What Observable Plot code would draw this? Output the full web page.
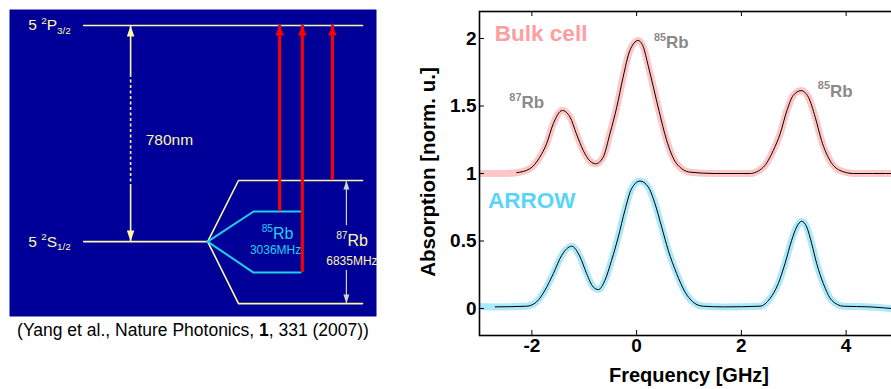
<!DOCTYPE html>
<html><head><meta charset="utf-8">
<script src="https://cdn.jsdelivr.net/npm/d3@7"></script>
<script src="https://cdn.jsdelivr.net/npm/@observablehq/plot@0.6"></script>
<style>
html,body{margin:0;padding:0;background:#fff;width:891px;height:389px;overflow:hidden;}
#left{position:absolute;left:0;top:0;width:400px;}
#right{position:absolute;left:400px;top:0;width:500px;}
svg{overflow:visible;max-width:none !important;}
</style></head><body>
<div id="left"></div><div id="right"></div>
<script>
// ===== Right chart: absorption spectra =====
const bulkFreq = [-3.0, -2.6, -2.29, -2.04, -1.85, -1.72, -1.59, -1.42, -1.27, -1.15, -1.02, -0.89, -0.78, -0.64, -0.51, -0.38, -0.26, -0.13, 0.03, 0.13, 0.22, 0.32, 0.43, 0.57, 0.76, 1.02, 1.5, 2.16, 2.42, 2.61, 2.74, 2.87, 2.99, 3.14, 3.28, 3.41, 3.53, 3.69, 3.88, 4.14, 4.5, 5.0];
const bulkAbs  = [1.0, 1.0, 1.006, 1.035, 1.12, 1.22, 1.37, 1.467, 1.417, 1.294, 1.171, 1.092, 1.072, 1.12, 1.294, 1.49, 1.71, 1.91, 1.985, 1.935, 1.80, 1.64, 1.46, 1.25, 1.075, 1.01, 1.0, 1.0, 1.047, 1.171, 1.294, 1.467, 1.578, 1.614, 1.565, 1.417, 1.245, 1.097, 1.023, 1.0, 1.0, 1.0];
const arrowFreq = [-3.0, -2.7, -2.1, -1.91, -1.75, -1.59, -1.43, -1.24, -1.08, -0.955, -0.83, -0.73, -0.605, -0.478, -0.35, -0.224, -0.096, 0.064, 0.222, 0.35, 0.478, 0.604, 0.764, 0.923, 1.02, 1.114, 1.27, 1.66, 2.355, 2.546, 2.705, 2.833, 2.96, 3.056, 3.15, 3.247, 3.343, 3.438, 3.565, 3.725, 3.947, 4.457, 5.0];
const arrowAbs  = [0.015, 0.012, 0.017, 0.049, 0.135, 0.259, 0.394, 0.461, 0.382, 0.259, 0.16, 0.14, 0.209, 0.357, 0.53, 0.727, 0.888, 0.944, 0.90, 0.777, 0.604, 0.431, 0.259, 0.123, 0.07, 0.037, 0.017, 0.012, 0.017, 0.074, 0.185, 0.333, 0.505, 0.604, 0.646, 0.604, 0.48, 0.333, 0.185, 0.061, 0.017, 0.012, -0.005];
const bulkFitFrom = -2.29;
const arrowFitFrom = -2.7;
const xTicks = [-2, 0, 2, 4];
const xTickLabels = ["-2", "0", "2", "4"];
const yTicks = [0, 0.5, 1, 1.5, 2];
const yTickLabels = ["0", "0.5", "1", "1.5", "2"];
const seriesNames = ["Bulk cell", "ARROW"];
const peakNames = ["^{87}Rb", "^{85}Rb", "^{85}Rb"];
const peakFreq = [-2.43, 0.33, 3.46];
const peakAbs = [1.487, 1.927, 1.57];
const xLabel = "Frequency [GHz]";
const yLabel = "Absorption [norm. u.]";

// ===== Left diagram: Rb D2 level scheme (diagram units) =====
const levelNames = ["5 ^{2}P_{3/2}", "5 ^{2}S_{1/2}"];
const levelEnergy = [94.8, 24.4];
const hf87Energy = [44.3, 4.2];
const hf85Energy = [34.2, 14.3];
const redX = [73.6, 79.8, 88.0];
const redFrom = [34.2, 14.3, 44.3];
const wavelengthLabel = "780nm";
const rb85Labels = ["^{85}Rb", "3036MHz"];
const rb87Labels = ["^{87}Rb", "6835MHz"];
const caption = "(Yang et al., Nature Photonics, *{1}, 331 (2007))";

const FONT = "'Liberation Sans', Arial, Helvetica, sans-serif";
const PINK = "#ffc6c6", PINKTXT = "#ff9e9e", CYAN = "#ade9fb", CYANTXT = "#5cd4fa", GRAY = "#8a8a8a";
const NAVY = "#000099", YEL = "#fdf8a8", CYL = "#1fd0ec", RED = "#ff0000", ARR = "#d4d4c4";

function richify(svg) {
  d3.select(svg).selectAll("text").each(function () {
    const t = this.textContent;
    if (!/[\^_*]\{/.test(t)) return;
    const fs = parseFloat(getComputedStyle(this).fontSize) || 12;
    const pieces = t.split(/([\^_*]\{[^}]*\})/).filter(p => p.length);
    this.textContent = "";
    let shift = 0;
    for (const p of pieces) {
      const m = p.match(/^([\^_*])\{([^}]*)\}$/);
      let s = 0, size = fs, txt = p, bold = false;
      if (m) {
        txt = m[2];
        if (m[1] === "^") { s = -0.42 * fs; size = 0.64 * fs; }
        else if (m[1] === "_") { s = 0.22 * fs; size = 0.64 * fs; }
        else bold = true;
      }
      const ts = d3.select(this).append("tspan").text(txt).attr("font-size", size);
      if (s - shift !== 0) ts.attr("dy", s - shift);
      if (bold) ts.attr("font-weight", "bold");
      shift = s;
    }
  });
}

// ---- right chart ----
const bulk = bulkFreq.map((f, i) => ({f, a: bulkAbs[i]}));
const arrow = arrowFreq.map((f, i) => ({f, a: arrowAbs[i]}));
const bulkFit = bulk.filter(d => d.f >= bulkFitFrom);
const arrowFit = arrow.filter(d => d.f >= arrowFitFrom);

const right = Plot.plot({
  width: 500, height: 389,
  marginLeft: 79, marginRight: 2, marginTop: 11, marginBottom: 54,
  style: {fontFamily: FONT, background: "transparent", overflow: "visible", maxWidth: "none"},
  x: {domain: [-3, 5], axis: null},
  y: {domain: [-0.2, 2.2], axis: null},
  marks: [
    Plot.line(bulk, {x: "f", y: "a", stroke: PINK, strokeWidth: 7, curve: "monotone-x", strokeLinecap: "butt"}),
    Plot.line(arrow, {x: "f", y: "a", stroke: CYAN, strokeWidth: 7, curve: "monotone-x", strokeLinecap: "butt"}),
    Plot.line(bulkFit, {x: "f", y: "a", stroke: "black", strokeWidth: 1, curve: "monotone-x"}),
    Plot.line(arrowFit, {x: "f", y: "a", stroke: "black", strokeWidth: 1, curve: "monotone-x"}),
    Plot.frame({stroke: "black", strokeWidth: 1.6}),
    Plot.ruleX(xTicks, {x: d => d, insetTop: 319, stroke: "black"}),
    Plot.ruleX(xTicks, {x: d => d, insetBottom: 319, stroke: "black"}),
    Plot.ruleY(yTicks, {y: d => d, insetRight: 414, stroke: "black"}),
    Plot.ruleY(yTicks, {y: d => d, insetLeft: 414, stroke: "black"}),
    Plot.text(xTicks, {x: d => d, text: (d, i) => xTickLabels[i], frameAnchor: "bottom", textAnchor: "middle", dy: 16, fontSize: 19, fontWeight: "bold", fill: "black"}),
    Plot.text(yTicks, {y: d => d, text: (d, i) => yTickLabels[i], frameAnchor: "left", textAnchor: "end", dx: -3, fontSize: 19, fontWeight: "bold", fill: "black"}),
    Plot.text([xLabel], {frameAnchor: "bottom", text: d => d, textAnchor: "middle", dy: 46.5, lineAnchor: "bottom", fontSize: 20, fontWeight: "bold", fill: "black"}),
    Plot.text([yLabel], {frameAnchor: "left", text: d => d, textAnchor: "middle", rotate: -90, dx: -45, dy: -1.5, lineAnchor: "bottom", fontSize: 20.5, fontWeight: "bold", fill: "black"}),
    Plot.text([seriesNames[0]], {x: -2.707, y: 1.984, text: d => d, textAnchor: "start", lineAnchor: "bottom", fontSize: 22.5, fontWeight: "bold", fill: PINKTXT}),
    Plot.text([seriesNames[1]], {x: -2.84, y: 0.744, text: d => d, textAnchor: "start", lineAnchor: "bottom", fontSize: 22.5, fontWeight: "bold", fill: CYANTXT}),
    Plot.text(peakNames, {x: (d, i) => peakFreq[i], y: (d, i) => peakAbs[i], text: d => d, textAnchor: "start", lineAnchor: "bottom", fontSize: 17, fontWeight: "bold", fill: GRAY})
  ]
});
document.getElementById("right").append(right);
richify(right);

// ---- left diagram ----
const [eP, eS] = levelEnergy;
const levelX0 = 20.2, levelX1 = 96.2, splitX = 54.0, hf87X = 62.4, hf85X = 66.5, hf85X1 = 79.3;
const yelSegs = [
  {k: "P", u: levelX0, e: eP}, {k: "P", u: levelX1, e: eP},
  {k: "S", u: levelX0, e: eS}, {k: "S", u: splitX, e: eS},
  {k: "87a", u: splitX, e: eS}, {k: "87a", u: hf87X, e: hf87Energy[0]}, {k: "87a", u: levelX1, e: hf87Energy[0]},
  {k: "87b", u: splitX, e: eS}, {k: "87b", u: hf87X, e: hf87Energy[1]}, {k: "87b", u: levelX1, e: hf87Energy[1]}
];
const cySegs = [
  {k: "85a", u: splitX, e: eS}, {k: "85a", u: hf85X, e: hf85Energy[0]}, {k: "85a", u: hf85X1, e: hf85Energy[0]},
  {k: "85b", u: splitX, e: eS}, {k: "85b", u: hf85X, e: hf85Energy[1]}, {k: "85b", u: hf85X1, e: hf85Energy[1]}
];
const reds = redX.map((u, i) => ({u, e1: redFrom[i], e2: eP}));
const head = (w, h, down) => ({draw(ctx) { const s = down ? -1 : 1; ctx.moveTo(0, 0); ctx.lineTo(-w / 2, s * h); ctx.lineTo(w / 2, s * h); ctx.closePath(); }});
const wlX = 33.0, wlDotTop = 78.2, wlDotBottom = 42.0;
const splitArrowX = 91.8, gapTop = 29.6, gapBottom = 15.0;

const left = Plot.plot({
  width: 400, height: 389,
  marginLeft: 9, marginRight: 24, marginTop: 9, marginBottom: 73,
  style: {fontFamily: FONT, background: "transparent", overflow: "visible", maxWidth: "none"},
  x: {domain: [0, 100], axis: null},
  y: {domain: [0, 100], axis: null},
  marks: [
    Plot.frame({fill: NAVY, stroke: "none"}),
    Plot.line(yelSegs, {x: "u", y: "e", z: "k", stroke: YEL, strokeWidth: 1.6, curve: "linear"}),
    Plot.line(cySegs, {x: "u", y: "e", z: "k", stroke: CYL, strokeWidth: 2, curve: "linear"}),
    // 780 nm double arrow
    Plot.ruleX([wlX], {x: d => d, y1: wlDotTop, y2: eP, stroke: YEL, strokeWidth: 1.6}),
    Plot.ruleX([wlX], {x: d => d, y1: wlDotBottom, y2: wlDotTop, stroke: YEL, strokeWidth: 1.6, strokeDasharray: "3,2.5"}),
    Plot.ruleX([wlX], {x: d => d, y1: eS, y2: wlDotBottom, stroke: YEL, strokeWidth: 1.6}),
    Plot.dot([wlX], {x: d => d, y: eP, symbol: head(7.5, 11, false), fill: YEL, stroke: "none"}),
    Plot.dot([wlX], {x: d => d, y: eS, symbol: head(7.5, 11, true), fill: YEL, stroke: "none"}),
    // 87Rb splitting arrow
    Plot.ruleX([splitArrowX], {x: d => d, y1: gapTop, y2: hf87Energy[0], stroke: ARR, strokeWidth: 1.2}),
    Plot.ruleX([splitArrowX], {x: d => d, y1: hf87Energy[1], y2: gapBottom, stroke: ARR, strokeWidth: 1.2}),
    Plot.dot([splitArrowX], {x: d => d, y: hf87Energy[0], symbol: head(6, 9, false), fill: ARR, stroke: "none"}),
    Plot.dot([splitArrowX], {x: d => d, y: hf87Energy[1], symbol: head(6, 9, true), fill: ARR, stroke: "none"}),
    // red transitions
    Plot.ruleX(reds, {x: "u", y1: "e1", y2: "e2", stroke: RED, strokeWidth: 3}),
    Plot.dot(reds, {x: "u", y: "e2", symbol: head(8.5, 10, false), fill: RED, stroke: "none"}),
    // labels
    Plot.text(levelNames, {x: 5.1, y: (d, i) => levelEnergy[i], text: d => d, textAnchor: "start", fontSize: 15.5, fill: YEL}),
    Plot.text([wavelengthLabel], {x: 37.1, y: 56.0, text: d => d, textAnchor: "start", lineAnchor: "bottom", fontSize: 15.5, fill: YEL}),
    Plot.text([rb85Labels[0]], {x: 68.7, y: 25.3, text: d => d, textAnchor: "start", lineAnchor: "bottom", fontSize: 16, fill: CYL}),
    Plot.text([rb85Labels[1]], {x: 65.5, y: 20.4, text: d => d, textAnchor: "start", lineAnchor: "bottom", fontSize: 12, fill: CYL}),
    Plot.text([rb87Labels[0]], {x: 89.0, y: 23.1, text: d => d, textAnchor: "start", lineAnchor: "bottom", fontSize: 16, fill: YEL}),
    Plot.text([rb87Labels[1]], {x: 86.3, y: 16.9, text: d => d, textAnchor: "start", lineAnchor: "bottom", fontSize: 12, fill: YEL}),
    Plot.text([caption], {x: 50, y: -6.2, text: d => d, textAnchor: "middle", lineAnchor: "bottom", fontSize: 17.5, fill: "black"})
  ]
});
document.getElementById("left").append(left);
richify(left);
</script>
</body></html>
